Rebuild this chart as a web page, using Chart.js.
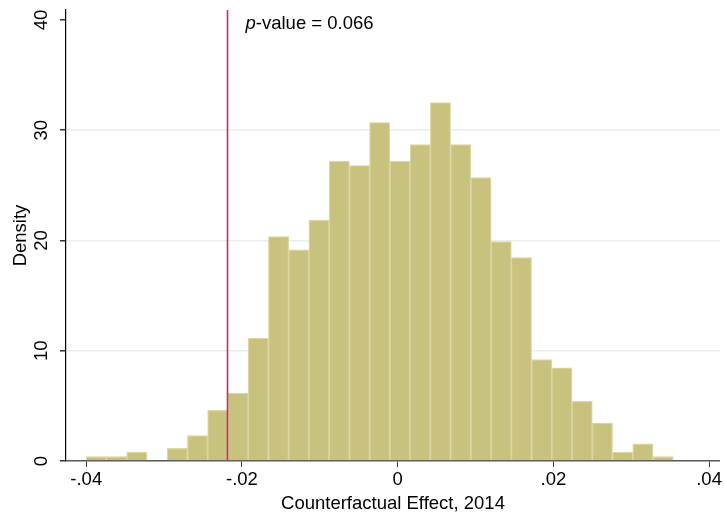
<!DOCTYPE html>
<html>
<head>
<meta charset="utf-8">
<script src="https://cdn.jsdelivr.net/npm/chart.js@4.4.1/dist/chart.umd.min.js"></script>
<style>
  html, body { margin: 0; padding: 0; background: #fff; }
  #wrap { width: 724px; height: 517px; }
</style>
</head>
<body>
<div id="wrap"><canvas id="histChart"></canvas></div>
<script>
// bin centres (bin width 0.0026) and density heights
const binCenters = [-0.0387, -0.0361, -0.0335, -0.0309, -0.0283, -0.0257, -0.0231, -0.0205, -0.0179, -0.0153,
                    -0.0127, -0.0101, -0.0075, -0.0049, -0.0023, 0.0003, 0.0029, 0.0055, 0.0081, 0.0107,
                    0.0133, 0.0159, 0.0185, 0.0211, 0.0237, 0.0263, 0.0289, 0.0315, 0.0341];
const densities = [0.4, 0.4, 0.8, 0, 1.15, 2.3, 4.6, 6.15, 11.15, 20.35,
                   19.15, 21.85, 27.2, 26.8, 30.7, 27.2, 28.7, 32.5, 28.7, 25.7,
                   19.9, 18.45, 9.2, 8.45, 5.4, 3.45, 0.8, 1.55, 0.4];
const xTicks = [-0.04, -0.02, 0, 0.02, 0.04];
const yTicks = [0, 10, 20, 30, 40];
const observedEffect = -0.0219;
const pValueText = '0.066';

const FONT = "'Liberation Sans', Arial, Helvetica, sans-serif";

// red line for the observed effect + p-value note
const markerPlugin = {
    id: 'marker',
    afterDatasetsDraw(chart) {
        const { ctx, chartArea, scales } = chart;
        const x = Math.round(scales.x.getPixelForValue(observedEffect)) + 0.5;
        ctx.save();
        ctx.strokeStyle = '#d1285a';
        ctx.lineWidth = 1.6;
        ctx.beginPath();
        ctx.moveTo(x, chartArea.top);
        ctx.lineTo(x, chartArea.bottom);
        ctx.stroke();

        ctx.fillStyle = '#000';
        ctx.textBaseline = 'alphabetic';
        let tx = x + 18;
        const ty = 29;
        ctx.font = 'italic 18.5px ' + FONT;
        ctx.fillText('p', tx, ty);
        tx += ctx.measureText('p').width;
        ctx.font = '18.5px ' + FONT;
        ctx.fillText('-value = ' + pValueText, tx, ty);
        ctx.restore();
    }
};

document.addEventListener('DOMContentLoaded', () => {
    const ctx = document.getElementById('histChart').getContext('2d');
    new Chart(ctx, {
        type: 'bar',
        data: {
            datasets: [{
                data: binCenters.map((c, i) => ({ x: c, y: densities[i] })),
                backgroundColor: '#c9c27e',
                borderColor: '#dcd7a2',
                borderWidth: 1.2,
                barPercentage: 1,
                categoryPercentage: 1
            }]
        },
        options: {
            responsive: true,
            maintainAspectRatio: false,
            animation: false,
            layout: { padding: { top: 10, right: 4, left: 10, bottom: 0 } },
            plugins: {
                legend: { display: false },
                tooltip: { enabled: false }
            },
            scales: {
                x: {
                    type: 'linear',
                    offset: false,
                    min: -0.0426,
                    max: 0.0414,
                    afterBuildTicks: scale => { scale.ticks = xTicks.map(v => ({ value: v })); },
                    afterFit: scale => { scale.height = 56; },
                    border: { color: '#555', width: 1.5 },
                    grid: { offset: false, drawOnChartArea: false, tickColor: '#333', tickLength: 6 },
                    ticks: {
                        color: '#000',
                        padding: 2,
                        font: { family: FONT, size: 18.5 },
                        callback: v => v === 0 ? '0' : (v < 0 ? '-' : '') + String(Math.abs(v)).replace(/^0/, '')
                    },
                    title: {
                        display: true,
                        text: 'Counterfactual Effect, 2014',
                        color: '#000',
                        font: { family: FONT, size: 18.5 },
                        padding: { top: 0, bottom: 2 }
                    }
                },
                y: {
                    min: 0,
                    max: 40.9,
                    afterBuildTicks: scale => { scale.ticks = yTicks.map(v => ({ value: v })); },
                    afterFit: scale => { scale.width = 56; scale.paddingTop = 0; scale.paddingBottom = 0; },
                    border: { color: '#000', width: 1.2 },
                    grid: {
                        color: c => (c.tick && (c.tick.value === 0 || c.tick.value === 40)) ? 'rgba(0,0,0,0)' : '#e8eeee',
                        lineWidth: 1.5,
                        tickColor: '#333',
                        tickLength: 6
                    },
                    ticks: {
                        color: '#000',
                        minRotation: 90,
                        maxRotation: 90,
                        crossAlign: 'center',
                        padding: 8,
                        font: { family: FONT, size: 18.5 }
                    },
                    title: {
                        display: true,
                        text: 'Density',
                        color: '#000',
                        font: { family: FONT, size: 18.5 },
                        padding: { top: 0, bottom: 0 }
                    }
                }
            }
        },
        plugins: [markerPlugin]
    });
});
</script>
</body>
</html>
